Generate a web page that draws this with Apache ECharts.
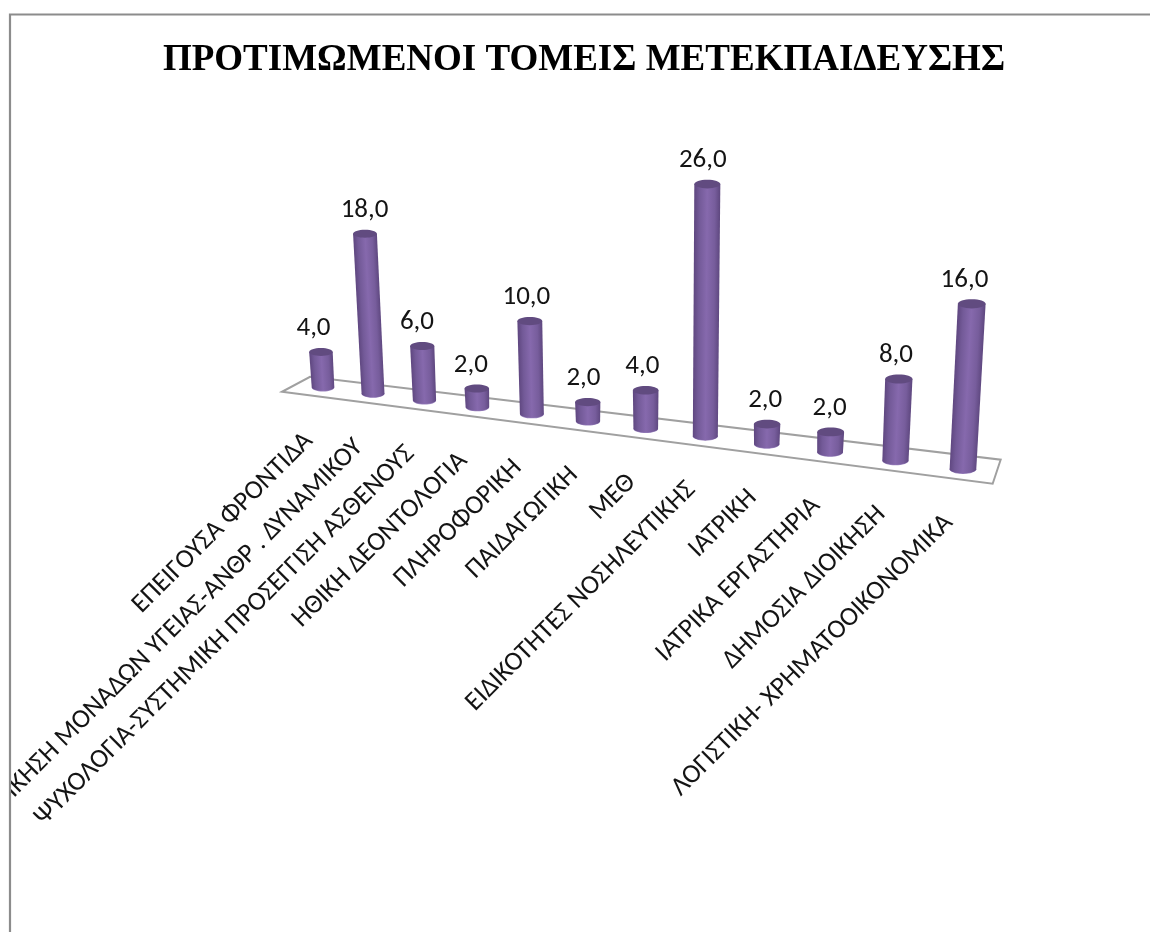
<!DOCTYPE html>
<html>
<head>
<meta charset="utf-8">
<title>Προτιμώμενοι τομείς μετεκπαίδευσης</title>
<style>
  html, body { margin: 0; padding: 0; background: #fff; }
  #chart { width: 1150px; height: 932px; }
</style>
<script src="https://cdn.jsdelivr.net/npm/echarts@6/dist/echarts.min.js"></script>
</head>
<body>
<div id="chart"></div>
<script>
const chartTitle = 'ΠΡΟΤΙΜΩΜΕΝΟΙ ΤΟΜΕΙΣ ΜΕΤΕΚΠΑΙΔΕΥΣΗΣ';
const categories = [
  'ΕΠΕΙΓΟΥΣΑ ΦΡΟΝΤΙΔΑ',
  'ΔΙΟΙΚΗΣΗ ΜΟΝΑΔΩΝ ΥΓΕΙΑΣ-ΑΝΘΡ . ΔΥΝΑΜΙΚΟΥ',
  'ΨΥΧΟΛΟΓΙΑ-ΣΥΣΤΗΜΙΚΗ ΠΡΟΣΕΓΓΙΣΗ ΑΣΘΕΝΟΥΣ',
  'ΗΘΙΚΗ ΔΕΟΝΤΟΛΟΓΙΑ',
  'ΠΛΗΡΟΦΟΡΙΚΗ',
  'ΠΑΙΔΑΓΩΓΙΚΗ',
  'ΜΕΘ',
  'ΕΙΔΙΚΟΤΗΤΕΣ ΝΟΣΗΛΕΥΤΙΚΗΣ',
  'ΙΑΤΡΙΚΗ',
  'ΙΑΤΡΙΚΑ ΕΡΓΑΣΤΗΡΙΑ',
  'ΔΗΜΟΣΙΑ ΔΙΟΙΚΗΣΗ',
  'ΛΟΓΙΣΤΙΚΗ- ΧΡΗΜΑΤΟΟΙΚΟΝΟΜΙΚΑ'
];
const percentages = [4, 18, 6, 2, 10, 2, 4, 26, 2, 2, 8, 16];

// Perspective of the chart floor: the flat grid is mapped through these terms.
const PERSPECTIVE = -0.01382;
const ORIGIN_X = 323, STEP_X = 44.87;
const ORIGIN_Y = 387, FLOOR_SLOPE = 0.128;
const VANISH_X = 660, VANISH_DEPTH = 5700;
const BASE_RADIUS = 11.3;
const LABEL_FONT = 'Carlito, Lato, "Open Sans", sans-serif';

const screenX = t => (ORIGIN_X + STEP_X * t) / (1 + PERSPECTIVE * t);
const screenY = x => ORIGIN_Y + (x - ORIGIN_X) * FLOOR_SLOPE;
const depthScale = t => 1 / (1 + PERSPECTIVE * t);

// Turns a grid point into its position on the tilted floor plane.
function project(point, zeroY, rect) {
  const t = (point[0] - rect.x) / (rect.width / categories.length) - 0.5;
  const scale = depthScale(t);
  const bx = screenX(t);
  const by = screenY(bx);
  const h = (zeroY - point[1]) * scale;
  return { t, scale, bx, by, tx: bx + (bx - VANISH_X) * h / VANISH_DEPTH, ty: by - h };
}

function lowerArc(cx, cy, rx, ry) {
  const pts = [];
  for (let k = 0; k <= 24; k++) {
    const a = Math.PI * k / 24;
    pts.push([cx + rx * Math.cos(a), cy + ry * Math.sin(a)]);
  }
  return pts;
}

function renderCylinder(params, api) {
  const idx = api.value(0);
  const rect = params.coordSys;
  const zeroY = api.coord([idx, 0])[1];
  const p = project(api.coord([idx, api.value(1)]), zeroY, rect);
  const rb = BASE_RADIUS * p.scale;
  const rt = rb * 1.04;
  const ryb = 3.8 * p.scale, ryt = 3.9 * p.scale;

  const outline = [[p.tx - rt, p.ty], [p.tx + rt, p.ty]].concat(lowerArc(p.bx, p.by, rb, ryb));

  // Shading runs across the cylinder axis, so it stays aligned with the lean.
  const mx = (p.bx + p.tx) / 2, my = (p.by + p.ty) / 2;
  const len = Math.hypot(p.tx - p.bx, p.ty - p.by) || 1;
  const nx = -(p.ty - p.by) / len, ny = (p.tx - p.bx) / len;
  const rm = (rb + rt) / 2;
  const shade = {
    type: 'linear', global: true,
    x: mx - nx * rm, y: my - ny * rm, x2: mx + nx * rm, y2: my + ny * rm,
    colorStops: [
      { offset: 0, color: '#5f4780' },
      { offset: 0.2, color: '#735a98' },
      { offset: 0.5, color: '#8669ad' },
      { offset: 0.8, color: '#775d9c' },
      { offset: 1, color: '#5f4880' }
    ]
  };

  return {
    type: 'group',
    children: [
      { type: 'ellipse', shape: { cx: p.bx, cy: p.by + 0.4, rx: rb, ry: ryb + 0.2 }, style: { fill: '#9a84be' } },
      { type: 'polygon', shape: { points: outline }, style: { fill: shade } },
      { type: 'ellipse', shape: { cx: p.tx, cy: p.ty, rx: rt, ry: ryt }, style: { fill: '#614b80' } },
      {
        type: 'text', x: p.bx - 9.5 + p.t, y: p.ty - 10,
        style: {
          text: api.value(1).toFixed(1).replace('.', ','),
          align: 'center', verticalAlign: 'bottom',
          font: '27px ' + LABEL_FONT, fill: '#141414'
        }
      },
      {
        type: 'text', x: p.bx - 14, y: p.by + 50,
        rotation: Math.PI / 4,
        style: {
          text: categories[idx],
          align: 'right', verticalAlign: 'middle',
          font: '26.7px ' + LABEL_FONT, fill: '#141414'
        }
      }
    ]
  };
}

function renderFloor() {
  const left = screenX(-0.84), right = screenX(11.43);
  const floor = [
    [left, screenY(left) + 10],
    [right, screenY(right) + 11],
    [right + 8, screenY(right) - 13],
    [left + 28, screenY(left) - 5]
  ];
  return {
    type: 'polygon',
    shape: { points: floor },
    style: { fill: '#ffffff', stroke: '#a0a0a0', lineWidth: 2 }
  };
}

const chart = echarts.init(document.getElementById('chart'), null, { renderer: 'canvas' });
chart.setOption({
  animation: false,
  backgroundColor: '#ffffff',
  title: {
    text: chartTitle,
    left: 579, top: 37, textAlign: 'center',
    textStyle: { fontFamily: '"Liberation Serif", serif', fontWeight: 'bold', fontSize: 37, color: '#000' }
  },
  grid: { left: 100, top: 60, width: 720, height: 280 },
  xAxis: { type: 'category', data: categories, show: false },
  yAxis: { type: 'value', min: 0, max: 32, interval: 4, show: false },
  graphic: [
    // Frame of the chart area; everything left of it is cut off.
    { type: 'rect', z: 100, silent: true, shape: { x: 0, y: 0, width: 10, height: 932 }, style: { fill: '#ffffff' } },
    { type: 'polyline', z: 101, silent: true, shape: { points: [[10, 932], [10, 14.5], [1150, 14.5]] }, style: { fill: 'none', stroke: '#8c8c8c', lineWidth: 2.2 } }
  ],
  series: [
    { type: 'custom', silent: true, renderItem: renderFloor, data: [[0]], encode: { x: 0, y: -1 }, z: 1 },
    {
      type: 'custom', silent: true, renderItem: renderCylinder, z: 2, clip: false,
      data: percentages.map((v, i) => [i, v]),
      encode: { x: 0, y: 1 }
    }
  ]
});
</script>
</body>
</html>
